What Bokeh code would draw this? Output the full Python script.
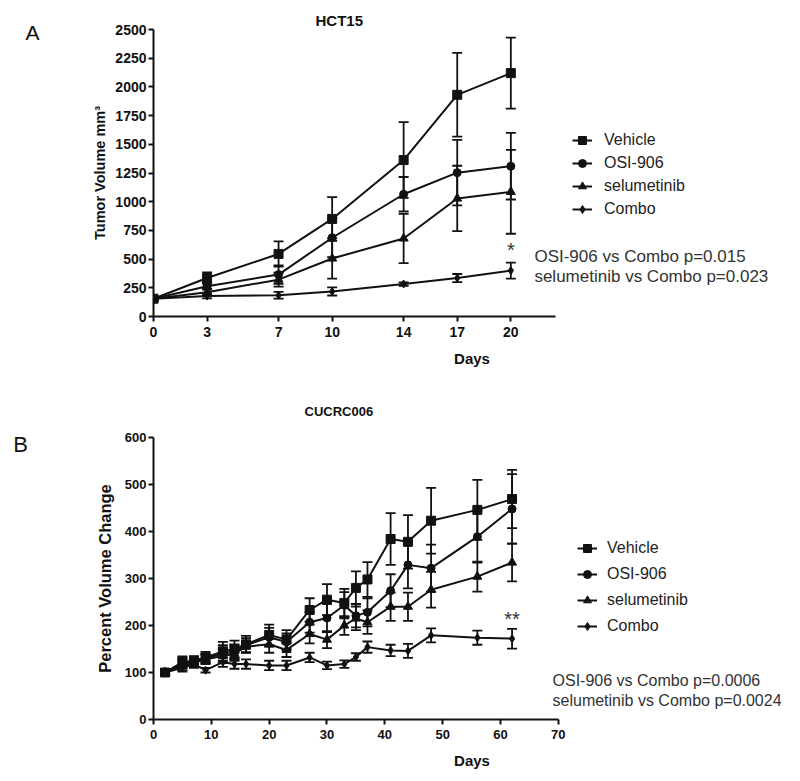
from bokeh.plotting import figure
from bokeh.models import (Range1d, Whisker, TeeHead, ColumnDataSource, Legend,
                          LegendItem, Label, FixedTicker)
from bokeh.layouts import column, row
from bokeh.embed import file_html
from bokeh.resources import INLINE

# ---------------- data ----------------
series_names = ["Vehicle", "OSI-906", "selumetinib", "Combo"]

# Panel A: HCT15
days_a = [0, 3, 7, 10, 14, 17, 20]
vehicle_a = [155, 335, 545, 850, 1363, 1931, 2120]
vehicle_a_err = [20, 50, 110, 190, 330, 365, 310]
osi_a = [155, 264, 365, 686, 1065, 1253, 1309]
osi_a_err = [15, 30, 80, 170, 150, 285, 290]
selu_a = [155, 212, 321, 505, 680, 1028, 1086]
selu_a_err = [15, 30, 60, 175, 215, 285, 365]
combo_a = [155, 178, 185, 218, 283, 335, 400]
combo_a_err = [10, 20, 30, 35, 15, 35, 70]
xticks_a = [0, 3, 7, 10, 14, 17, 20]
yticks_a = [0, 250, 500, 750, 1000, 1250, 1500, 1750, 2000, 2250, 2500]

# Panel B: CUCRC006
days_b = [2, 5, 7, 9, 12, 14, 16, 20, 23, 27, 30, 33, 35, 37, 41, 44, 48, 56, 62]
vehicle_b = [100, 122, 125, 132, 145, 150, 160, 180, 170, 233, 255, 248, 280, 298, 384, 378, 423, 446, 469]
vehicle_b_err = [5, 12, 10, 12, 20, 18, 18, 22, 20, 25, 33, 30, 35, 37, 55, 57, 70, 64, 62]
osi_b = [100, 120, 122, 130, 140, 145, 158, 175, 165, 207, 216, 243, 221, 228, 274, 329, 322, 389, 448]
osi_b_err = [5, 10, 10, 10, 18, 15, 15, 20, 18, 22, 30, 28, 25, 30, 35, 50, 50, 55, 74]
selu_b = [100, 115, 120, 128, 135, 140, 155, 160, 148, 182, 170, 200, 215, 207, 240, 240, 276, 304, 334]
selu_b_err = [5, 10, 8, 10, 15, 15, 12, 18, 15, 20, 18, 20, 25, 25, 30, 30, 38, 32, 40]
combo_b = [100, 110, 118, 105, 122, 118, 118, 115, 115, 132, 115, 118, 133, 154, 147, 146, 179, 174, 172]
combo_b_err = [3, 8, 8, 5, 10, 10, 10, 10, 10, 10, 8, 8, 8, 12, 12, 15, 15, 15, 21]
xticks_b = [0, 10, 20, 30, 40, 50, 60, 70]
yticks_b = [0, 100, 200, 300, 400, 500, 600]

FONT = "Liberation Sans"
INK = "#111111"
GREY = "#333333"
markers = ["square", "circle", "triangle", "diamond"]
msizes = [9, 8, 9, 8]

LEFT_W = 80          # width of the strip holding the panel letters
TOTAL_W = 790
H_A, H_B = 383, 390


def style_axes(p, xticks, yticks, xlabel, ylabel, xb, yb, tick_size, ylab_size, ylab_standoff):
    p.outline_line_color = None
    p.xgrid.grid_line_color = None
    p.ygrid.grid_line_color = None
    p.xaxis.ticker = FixedTicker(ticks=xticks)
    p.yaxis.ticker = FixedTicker(ticks=yticks)
    p.xaxis.axis_label = xlabel
    p.yaxis.axis_label = ylabel
    p.xaxis.bounds = xb
    p.yaxis.bounds = yb
    for ax in (p.xaxis[0], p.yaxis[0]):
        ax.axis_line_width = 2
        ax.axis_line_color = INK
        ax.major_tick_line_width = 2
        ax.major_tick_line_color = INK
        ax.major_tick_out = 5
        ax.major_tick_in = 0
        ax.minor_tick_line_color = None
        ax.major_label_text_font = FONT
        ax.major_label_text_font_style = "bold"
        ax.major_label_text_font_size = tick_size
        ax.major_label_text_color = INK
        ax.axis_label_text_font = FONT
        ax.axis_label_text_font_style = "bold"
        ax.axis_label_text_color = INK
    p.xaxis.axis_label_text_font_size = "15px"
    p.yaxis.axis_label_text_font_size = ylab_size
    p.xaxis.major_label_standoff = 5
    p.yaxis.major_label_standoff = 2
    p.xaxis.axis_label_standoff = 10
    p.yaxis.axis_label_standoff = ylab_standoff


def set_title(p, text, offset, standoff, size):
    p.title.text = text
    p.title.align = "left"
    p.title.offset = offset
    p.title.standoff = standoff
    p.title.text_font = FONT
    p.title.text_font_size = size
    p.title.text_font_style = "bold"
    p.title.text_color = INK


def draw_series(p, days, means, errs):
    items = []
    for name, mk, ms, m, e in zip(series_names, markers, msizes, means, errs):
        src = ColumnDataSource(dict(
            x=days, y=m,
            upper=[a + b for a, b in zip(m, e)],
            lower=[a - b for a, b in zip(m, e)]))
        w = Whisker(source=src, base="x", upper="upper", lower="lower",
                    dimension="height", line_width=1.8, line_color=INK,
                    upper_head=TeeHead(size=10, line_width=1.8, line_color=INK),
                    lower_head=TeeHead(size=10, line_width=1.8, line_color=INK))
        p.add_layout(w)
        lr = p.line("x", "y", source=src, line_width=2, line_color=INK)
        sr = p.scatter("x", "y", source=src, marker=mk, size=ms,
                       fill_color=INK, line_color=INK)
        items.append(LegendItem(label=name, renderers=[lr, sr]))
    return items


def add_legend(p, items, loc, spacing, standoff):
    lg = Legend(items=items, location=loc, border_line_color=None,
                background_fill_alpha=0, padding=5, spacing=spacing,
                glyph_width=20, glyph_height=20, label_height=20,
                label_standoff=standoff, label_text_font=FONT,
                label_text_font_size="16px", label_text_color="#222222",
                margin=0)
    p.add_layout(lg)


def txt(p, x, y, text, size, bold=False, align="left", baseline="middle", color=INK):
    p.add_layout(Label(x=x, y=y, text=text, text_font=FONT, text_font_size=size,
                       text_font_style="bold" if bold else "normal",
                       text_align=align, text_baseline=baseline, text_color=color))


# ---------------- Panel A ----------------
# frame: page x 153..790, page y 29..316; axis spans x 0..22.5 (153..555), y 0..2500
ax_per_px = 22.5 / (555 - 153)
pa = figure(width=TOTAL_W - LEFT_W, height=H_A,
            x_range=Range1d(0, (TOTAL_W - 153) * ax_per_px),
            y_range=Range1d(0, 2500),
            output_backend="svg", toolbar_location=None,
            min_border_left=153 - LEFT_W, min_border_right=0, min_border_top=29,
            min_border_bottom=H_A - 316)
style_axes(pa, xticks_a, yticks_a, "Days", "Tumor Volume mm³", (0, 22.5), (0, 2500),
           "14px", "14.5px", 4)
set_title(pa, "HCT15", 162, 1, "15px")
items_a = draw_series(pa, days_a,
                      [vehicle_a, osi_a, selu_a, combo_a],
                      [vehicle_a_err, osi_a_err, selu_a_err, combo_a_err])
add_legend(pa, items_a, (419, 97), 3, 12)
txt(pa, 21.32, 523, "OSI-906 vs Combo p=0.015", "17px", color=GREY)
txt(pa, 21.32, 348, "selumetinib vs Combo p=0.023", "17px", color=GREY)
txt(pa, 20, 671, "*", "20px", align="center", baseline="top", color=GREY)

# ---------------- Panel B ----------------
# frame: page x 148..790, page y 437..719; axis 0..70 (148..556), 0..600
bx_per_px = 70 / (556 - 148)
pb = figure(width=TOTAL_W - LEFT_W, height=H_B,
            x_range=Range1d(0, (TOTAL_W - 148) * bx_per_px),
            y_range=Range1d(0, 600),
            output_backend="svg", toolbar_location=None,
            min_border_left=148 - LEFT_W, min_border_right=0, min_border_top=437 - H_A,
            min_border_bottom=H_B - (719 - H_A))
style_axes(pb, xticks_b, yticks_b, "Days", "Percent Volume Change", (0, 70), (0, 600),
           "13px", "16.5px", 8)
set_title(pb, "CUCRC006", 151, 37, "13px")
items_b = draw_series(pb, days_b,
                      [vehicle_b, osi_b, selu_b, combo_b],
                      [vehicle_b_err, osi_b_err, selu_b_err, combo_b_err])
add_legend(pb, items_b, (424, 83), 6, 10)
txt(pb, 69.0, 83, "OSI-906 vs Combo p=0.0006", "16px", color=GREY)
txt(pb, 69.0, 40, "selumetinib vs Combo p=0.0024", "16px", color=GREY)
txt(pb, 62, 237, "**", "20px", align="center", baseline="top", color=GREY)

# ---------------- panel letters strip ----------------
H_ALL = H_A + H_B
pl = figure(width=LEFT_W, height=H_ALL, x_range=Range1d(0, LEFT_W), y_range=Range1d(0, H_ALL),
            output_backend="svg", toolbar_location=None,
            x_axis_location=None, y_axis_location=None,
            min_border_left=0, min_border_right=0, min_border_top=0, min_border_bottom=0)
pl.outline_line_color = None
pl.xgrid.grid_line_color = None
pl.ygrid.grid_line_color = None
txt(pl, 32, H_ALL - 32, "A", "21px", align="center")
txt(pl, 20, H_ALL - 444, "B", "22px", align="center")

layout = row(pl, column(pa, pb))
open("out.html", "w").write(file_html(layout, INLINE))
